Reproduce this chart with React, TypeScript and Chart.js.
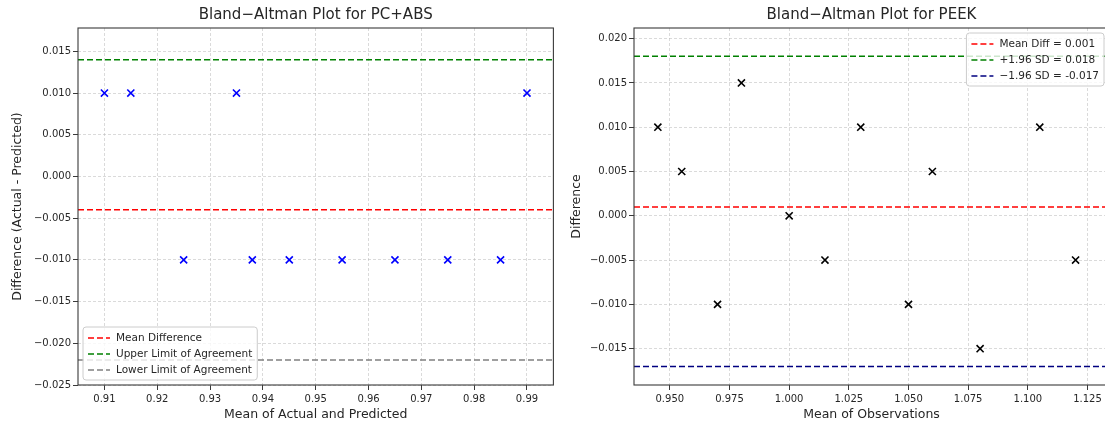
import React, { useEffect, useRef } from "react";
import { Chart, registerables } from "chart.js";

Chart.register(...registerables);

// ---------- PC+ABS data ----------
const pcAbsMeans = [0.91, 0.915, 0.935, 0.99, 0.925, 0.938, 0.945, 0.955, 0.965, 0.975, 0.985];
const pcAbsDiffs = [0.01, 0.01, 0.01, 0.01, -0.01, -0.01, -0.01, -0.01, -0.01, -0.01, -0.01];
const pcAbsMeanDiff = -0.004;
const pcAbsUpper = 0.014;
const pcAbsLower = -0.022;
const pcAbsXTicks = [0.91, 0.92, 0.93, 0.94, 0.95, 0.96, 0.97, 0.98, 0.99];
const pcAbsYTicks = [-0.025, -0.02, -0.015, -0.01, -0.005, 0, 0.005, 0.01, 0.015];
const pcAbsXRange = [0.905, 0.995];
const pcAbsYRange = [-0.025, 0.0178];
const pcAbsLegend = ["Mean Difference", "Upper Limit of Agreement", "Lower Limit of Agreement"];

// ---------- PEEK data ----------
const peekMeans = [0.945, 0.955, 0.97, 0.98, 1.0, 1.015, 1.03, 1.05, 1.06, 1.08, 1.105, 1.12];
const peekDiffs = [0.01, 0.005, -0.01, 0.015, 0.0, -0.005, 0.01, -0.01, 0.005, -0.015, 0.01, -0.005];
const peekMeanDiff = 0.001;
const peekUpper = 0.018;
const peekLower = -0.017;
const peekXTicks = [0.95, 0.975, 1.0, 1.025, 1.05, 1.075, 1.1, 1.125];
const peekYTicks = [-0.015, -0.01, -0.005, 0, 0.005, 0.01, 0.015, 0.02];
const peekXRange = [0.935, 1.134];
const peekYRange = [-0.0191, 0.0212];
const peekLegend = ["Mean Diff = 0.001", "+1.96 SD = 0.018", "\u22121.96 SD = -0.017"];

const FONT = "'DejaVu Sans', sans-serif";
const TEXT = "#262626";
const GRID = "rgba(176,176,176,0.6)";

const fmt = (v: number, d: number) => v.toFixed(d).replace("-", "\u2212");

const spinesPlugin = {
  id: "spines",
  afterDatasetsDraw(chart: any) {
    const { ctx, chartArea: a } = chart;
    ctx.save();
    ctx.strokeStyle = "#3a3a3a";
    ctx.lineWidth = 1.1;
    ctx.strokeRect(a.left, a.top, a.right - a.left, a.bottom - a.top);
    ctx.restore();
  },
};

const insideLegendPlugin = {
  id: "insideLegend",
  afterDraw(chart: any, _args: any, opts: any) {
    if (!opts || !opts.corner) return;
    const { ctx, chartArea: a } = chart;
    const items = chart.data.datasets.filter((d: any) => d.inLegend);
    ctx.save();
    ctx.font = `10.5px ${FONT}`;
    const textW = Math.max(...items.map((d: any) => ctx.measureText(d.label).width));
    const rowH = 16;
    const padTop = 3;
    const padBottom = 2;
    const boxW = 33 + textW + 5;
    const boxH = padTop + items.length * rowH + padBottom;
    let left: number;
    let top: number;
    if (opts.corner === "bottom-left") {
      left = a.left + 5;
      top = a.bottom - 5 - boxH;
    } else {
      left = a.right - 5 - boxW;
      top = a.top + 5;
    }
    const r = 3;
    ctx.beginPath();
    ctx.moveTo(left + r, top);
    ctx.lineTo(left + boxW - r, top);
    ctx.arcTo(left + boxW, top, left + boxW, top + r, r);
    ctx.lineTo(left + boxW, top + boxH - r);
    ctx.arcTo(left + boxW, top + boxH, left + boxW - r, top + boxH, r);
    ctx.lineTo(left + r, top + boxH);
    ctx.arcTo(left, top + boxH, left, top + boxH - r, r);
    ctx.lineTo(left, top + r);
    ctx.arcTo(left, top, left + r, top, r);
    ctx.closePath();
    ctx.fillStyle = "rgba(255,255,255,0.8)";
    ctx.fill();
    ctx.strokeStyle = "#cccccc";
    ctx.lineWidth = 1;
    ctx.stroke();
    items.forEach((d: any, i: number) => {
      const y = top + padTop + rowH / 2 + i * rowH;
      ctx.beginPath();
      ctx.setLineDash([6, 3]);
      ctx.strokeStyle = d.borderColor;
      ctx.lineWidth = 1.5;
      ctx.moveTo(left + 5, y);
      ctx.lineTo(left + 27, y);
      ctx.stroke();
      ctx.setLineDash([]);
      ctx.fillStyle = TEXT;
      ctx.textAlign = "left";
      ctx.textBaseline = "middle";
      ctx.fillText(d.label, left + 33, y);
    });
    ctx.restore();
  },
};

function buildConfig(c: any): any {
  const points = c.means.map((m: number, i: number) => ({ x: m, y: c.diffs[i] }));
  const lineSets = c.lines.map((l: any) => ({
    label: l.label,
    inLegend: true,
    data: [
      { x: c.xRange[0], y: l.value },
      { x: c.xRange[1], y: l.value },
    ],
    showLine: true,
    borderColor: l.color,
    backgroundColor: l.color,
    borderWidth: 1.5,
    borderDash: [6, 3],
    pointRadius: 0,
    pointHoverRadius: 0,
    fill: false,
    order: 1,
  }));
  return {
    type: "scatter",
    data: {
      datasets: [
        {
          label: "points",
          inLegend: false,
          data: points,
          pointStyle: "crossRot",
          pointRadius: 5,
          pointBorderWidth: 1.6,
          pointBorderColor: c.pointColor,
          pointBackgroundColor: c.pointColor,
          borderColor: c.pointColor,
          order: 2,
        },
        ...lineSets,
      ],
    },
    options: {
      responsive: false,
      animation: false,
      devicePixelRatio: 1,
      events: [],
      layout: { padding: { left: 0, right: c.rightPad, top: 0, bottom: 0 } },
      plugins: {
        legend: { display: false },
        tooltip: { enabled: false },
        title: {
          display: true,
          text: c.title,
          fullSize: false,
          color: TEXT,
          font: { family: FONT, size: 15, weight: "normal", lineHeight: 1.2 },
          padding: { top: 6.5, bottom: 3.5 },
        },
        insideLegend: { corner: c.legendCorner },
      },
      scales: {
        x: {
          type: "linear",
          min: c.xRange[0],
          max: c.xRange[1],
          afterBuildTicks: (s: any) => {
            s.ticks = c.xTicks.map((v: number) => ({ value: v }));
          },
          afterFit: (s: any) => {
            s.height = 41;
          },
          ticks: {
            autoSkip: false,
            maxRotation: 0,
            padding: 3,
            color: TEXT,
            font: { family: FONT, size: 10 },
            callback: (v: number) => fmt(v, c.xDecimals),
          },
          grid: {
            color: GRID,
            lineWidth: 0.8,
            tickLength: 5,
            tickColor: "#3a3a3a",
            tickWidth: 1,
            tickBorderDash: [],
          },
          border: { display: false, dash: [3, 2] },
          title: {
            display: true,
            text: c.xLabel,
            color: TEXT,
            font: { family: FONT, size: 12.5, lineHeight: 1.2 },
            padding: { top: 0, bottom: 3.5 },
          },
        },
        y: {
          type: "linear",
          min: c.yRange[0],
          max: c.yRange[1],
          afterBuildTicks: (s: any) => {
            s.ticks = c.yTicks.map((v: number) => ({ value: v }));
          },
          afterFit: (s: any) => {
            s.width = c.yAxisWidth;
          },
          ticks: {
            autoSkip: false,
            padding: 2,
            color: TEXT,
            font: { family: FONT, size: 10 },
            callback: (v: number) => fmt(v, 3),
          },
          grid: {
            color: GRID,
            lineWidth: 0.8,
            tickLength: 5,
            tickColor: "#3a3a3a",
            tickWidth: 1,
            tickBorderDash: [],
          },
          border: { display: false, dash: [3, 2] },
          title: {
            display: true,
            text: c.yLabel,
            color: TEXT,
            font: { family: FONT, size: 12.5, lineHeight: 1.2 },
            padding: { top: c.yTitlePad, bottom: 0 },
          },
        },
      },
    },
    plugins: [spinesPlugin, insideLegendPlugin],
  };
}

export default function App() {
  const leftRef = useRef<HTMLCanvasElement>(null);
  const rightRef = useRef<HTMLCanvasElement>(null);

  useEffect(() => {
    const left = new Chart(
      leftRef.current as HTMLCanvasElement,
      buildConfig({
        title: "Bland\u2212Altman Plot for PC+ABS",
        xLabel: "Mean of Actual and Predicted",
        yLabel: "Difference (Actual - Predicted)",
        means: pcAbsMeans,
        diffs: pcAbsDiffs,
        pointColor: "#0000ff",
        lines: [
          { label: pcAbsLegend[0], value: pcAbsMeanDiff, color: "#ff0000" },
          { label: pcAbsLegend[1], value: pcAbsUpper, color: "#008000" },
          { label: pcAbsLegend[2], value: pcAbsLower, color: "#808080" },
        ],
        xRange: pcAbsXRange,
        yRange: pcAbsYRange,
        xTicks: pcAbsXTicks,
        yTicks: pcAbsYTicks,
        xDecimals: 2,
        yAxisWidth: 78,
        yTitlePad: 10.5,
        rightPad: 5,
        legendCorner: "bottom-left",
      })
    );
    const right = new Chart(
      rightRef.current as HTMLCanvasElement,
      buildConfig({
        title: "Bland\u2212Altman Plot for PEEK",
        xLabel: "Mean of Observations",
        yLabel: "Difference",
        means: peekMeans,
        diffs: peekDiffs,
        pointColor: "#000000",
        lines: [
          { label: peekLegend[0], value: peekMeanDiff, color: "#ff0000" },
          { label: peekLegend[1], value: peekUpper, color: "#008000" },
          { label: peekLegend[2], value: peekLower, color: "#000080" },
        ],
        xRange: peekXRange,
        yRange: peekYRange,
        xTicks: peekXTicks,
        yTicks: peekYTicks,
        xDecimals: 3,
        yAxisWidth: 74,
        yTitlePad: 9,
        rightPad: 11,
        legendCorner: "top-right",
      })
    );
    return () => {
      left.destroy();
      right.destroy();
    };
  }, []);

  return (
    <div
      style={{
        position: "fixed",
        left: 0,
        top: 0,
        width: 1105,
        height: 426,
        overflow: "hidden",
        background: "#ffffff",
      }}
    >
      <div style={{ position: "absolute", left: 0, top: 0, width: 560, height: 426 }}>
        <canvas ref={leftRef} width={560} height={426} style={{ display: "block" }} />
      </div>
      <div style={{ position: "absolute", left: 560, top: 0, width: 560, height: 426 }}>
        <canvas ref={rightRef} width={560} height={426} style={{ display: "block" }} />
      </div>
    </div>
  );
}
